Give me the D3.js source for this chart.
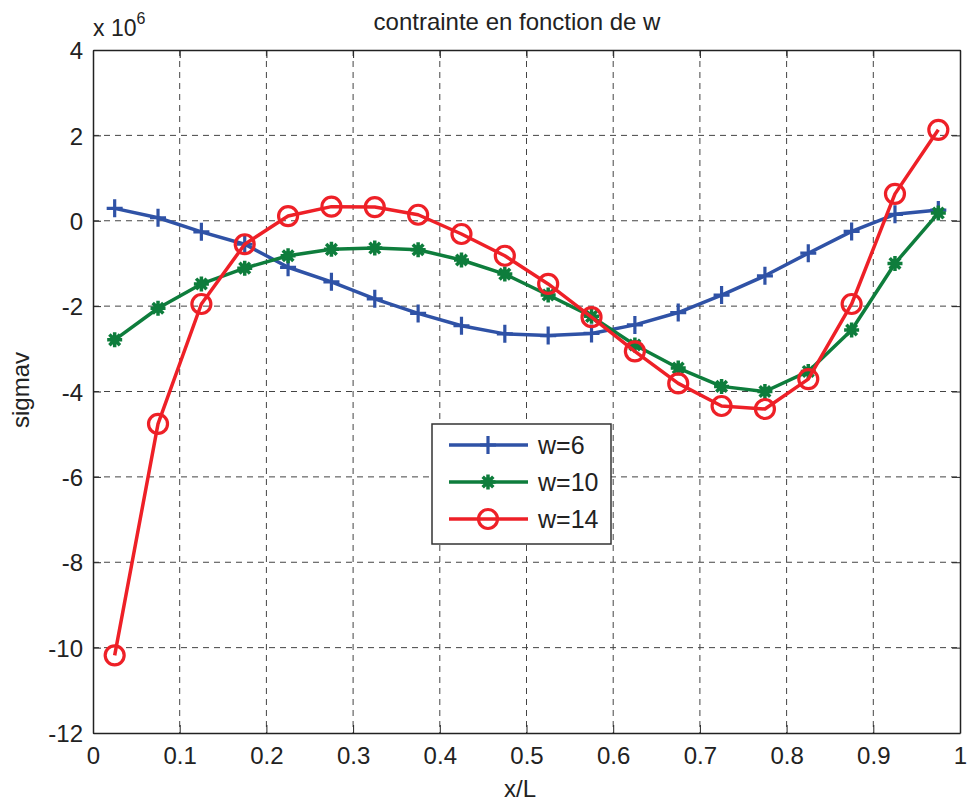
<!DOCTYPE html>
<html><head><meta charset="utf-8">
<script src="https://cdn.jsdelivr.net/npm/d3@7"></script>
<style>body{margin:0;background:#fff}svg{display:block}text{font-family:"Liberation Sans",Arial,sans-serif;fill:#222}</style>
</head><body><svg id="c" width="967" height="803"></svg>
<script>
const xValues = [0.025,0.075,0.125,0.175,0.225,0.275,0.325,0.375,0.425,0.475,0.525,0.575,0.625,0.675,0.725,0.775,0.825,0.875,0.925,0.975];
const w6  = [0.29,0.07,-0.26,-0.55,-1.09,-1.43,-1.83,-2.17,-2.46,-2.65,-2.69,-2.64,-2.44,-2.15,-1.74,-1.29,-0.76,-0.25,0.15,0.25];
const w10 = [-2.79,-2.05,-1.48,-1.11,-0.82,-0.67,-0.64,-0.68,-0.92,-1.25,-1.74,-2.24,-2.91,-3.45,-3.88,-4.00,-3.53,-2.56,-1.00,0.18];
const w14 = [-10.18,-4.76,-1.95,-0.55,0.11,0.33,0.32,0.14,-0.31,-0.82,-1.48,-2.26,-3.06,-3.81,-4.34,-4.41,-3.71,-1.95,0.63,2.13];
const seriesNames = ["w=6","w=10","w=14"];
const xTicks = [0,0.1,0.2,0.3,0.4,0.5,0.6,0.7,0.8,0.9,1];
const yTicks = [-12,-10,-8,-6,-4,-2,0,2,4];

const svg = d3.select("#c");
const L=93,R=960,T=50,B=733;
const x = d3.scaleLinear().domain([0,1]).range([L,R]);
const y = d3.scaleLinear().domain([-12,4]).range([B,T]);

// grid
const g = svg.append("g");
g.selectAll(".vx").data(xTicks.slice(1,-1)).join("line")
 .attr("x1",d=>x(d)).attr("x2",d=>x(d)).attr("y1",T).attr("y2",B)
 .attr("stroke","#444").attr("stroke-width",1).attr("stroke-dasharray","6,5");
g.selectAll(".hy").data(yTicks.slice(1,-1)).join("line")
 .attr("y1",d=>y(d)).attr("y2",d=>y(d)).attr("x1",L).attr("x2",R)
 .attr("stroke","#444").attr("stroke-width",1).attr("stroke-dasharray","6,5");

// axes
const fmt = d => String(+d.toFixed(1));
const xAxis = d3.axisBottom(x).tickValues(xTicks).tickFormat(fmt).tickSizeInner(-8).tickSizeOuter(0).tickPadding(14);
const xa = svg.append("g").attr("transform",`translate(0,${B})`).call(xAxis);
const yAxis = d3.axisLeft(y).tickValues(yTicks).tickFormat(fmt).tickSizeInner(-8).tickSizeOuter(0).tickPadding(10);
const ya = svg.append("g").attr("transform",`translate(${L},0)`).call(yAxis);
const xaTop = svg.append("g").attr("transform",`translate(0,${T})`).call(d3.axisTop(x).tickValues(xTicks).tickFormat("").tickSizeInner(-8).tickSizeOuter(0));
const yaR = svg.append("g").attr("transform",`translate(${R},0)`).call(d3.axisRight(y).tickValues(yTicks).tickFormat("").tickSizeInner(-8).tickSizeOuter(0));
[xa,ya,xaTop,yaR].forEach(a=>{a.select(".domain").attr("stroke","#222").attr("stroke-width",1.5);a.selectAll(".tick line").attr("stroke","#222");a.selectAll("text").style("font-size","24px").attr("fill","#222");});
ya.selectAll("text").attr("dy","0.36em");

svg.append("text").attr("x",517).attr("y",30).attr("text-anchor","middle").style("font-size","24px").text("contrainte en fonction de w");
const ex = svg.append("text").attr("x",93).attr("y",36).style("font-size","23px");
ex.append("tspan").text("x 10");
ex.append("tspan").attr("dy",-12).style("font-size","16px").text("6");
svg.append("text").attr("x",520).attr("y",797).attr("text-anchor","middle").style("font-size","24px").text("x/L");
svg.append("text").attr("transform","translate(29,390) rotate(-90)").attr("text-anchor","middle").style("font-size","24px").text("sigmav");

const colors = ["#2f52a6","#0e7d3c","#ee2027"];
const data = [w6,w10,w14];
const line = d3.line().x((d,i)=>x(xValues[i])).y(d=>y(d));

function marker(sel,k,cx,cy){
  const c = colors[k];
  if(k===0){
    sel.append("path").attr("d",`M${cx-8},${cy}H${cx+8}M${cx},${cy-9}V${cy+9}`).attr("stroke",c).attr("stroke-width",3.2).attr("fill","none");
  } else if(k===1){
    let d="";
    for(let a=0;a<4;a++){const an=a*Math.PI/4;const dx=7.5*Math.cos(an),dy=7.5*Math.sin(an);d+=`M${cx-dx},${cy-dy}L${cx+dx},${cy+dy}`;}
    sel.append("path").attr("d",d).attr("stroke",c).attr("stroke-width",3.5).attr("fill","none");
    sel.append("circle").attr("cx",cx).attr("cy",cy).attr("r",4.5).attr("fill",c);
  } else {
    sel.append("circle").attr("cx",cx).attr("cy",cy).attr("r",9.5).attr("stroke",c).attr("stroke-width",3.2).attr("fill","none");
  }
}

data.forEach((s,k)=>{
  svg.append("path").datum(s).attr("d",line).attr("fill","none").attr("stroke",colors[k]).attr("stroke-width",3.5).attr("stroke-linejoin","round");
  const mg = svg.append("g");
  s.forEach((v,i)=>marker(mg,k,x(xValues[i]),y(v)));
});

// legend
const lg = svg.append("g");
lg.append("rect").attr("x",432).attr("y",424).attr("width",179).attr("height",120).attr("fill","#fff").attr("stroke","#333").attr("stroke-width",1.5);
seriesNames.forEach((n,k)=>{
  const yy = 445+k*37;
  lg.append("line").attr("x1",449).attr("x2",528).attr("y1",yy).attr("y2",yy).attr("stroke",colors[k]).attr("stroke-width",3.5);
  marker(lg,k,488,yy);
  lg.append("text").attr("x",538).attr("y",yy+9).style("font-size","25px").text(n);
});
</script></body></html>
